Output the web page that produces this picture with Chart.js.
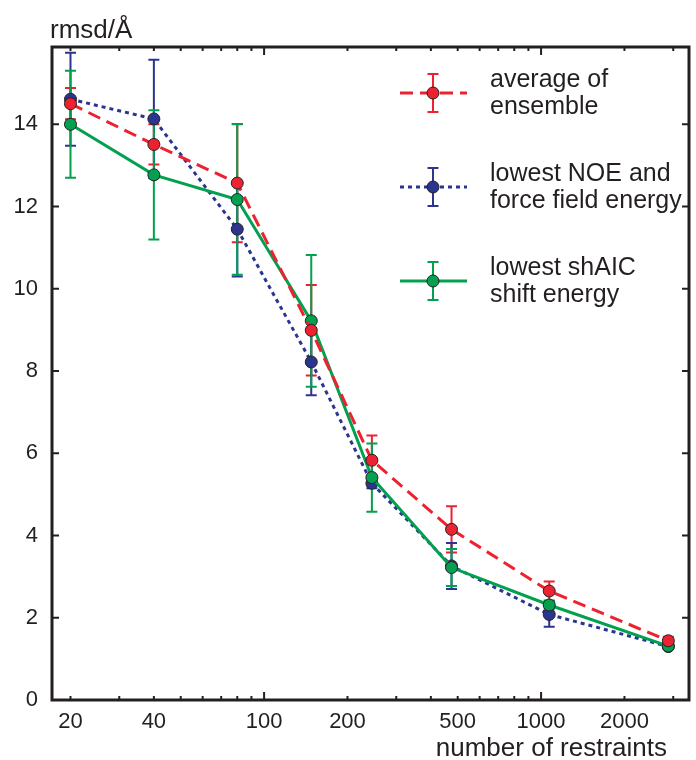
<!DOCTYPE html>
<html lang="en">
<head>
<meta charset="UTF-8">
<title>rmsd vs number of restraints</title>
<script src="https://cdn.jsdelivr.net/npm/chart.js"></script>
<style>
  body { margin: 0; background: #fff; }
  #wrap { width: 696px; height: 760px; }
</style>
</head>
<body>
<div id="wrap"><canvas id="myChart"></canvas></div>
<script>
// values
const restraints = [20, 40, 80, 148, 245, 475, 1070, 2880];

const avgEnsemble    = [14.50, 13.51, 12.57, 8.99, 5.83, 4.15, 2.65, 1.44];
const avgEnsembleErr = [0.38, 0.49, 1.44, 1.10, 0.60, 0.56, 0.23, 0.10];

const lowestNoe    = [14.61, 14.13, 11.45, 8.22, 5.27, 3.26, 2.08, 1.30];
const lowestNoeErr = [1.13, 1.44, 1.15, 0.81, 0.12, 0.56, 0.30, 0.06];

const lowestShaic    = [14.00, 12.77, 12.17, 9.22, 5.41, 3.22, 2.31, 1.31];
const lowestShaicErr = [1.30, 1.57, 1.83, 1.60, 0.83, 0.45, 0.10, 0.06];

const legendLines = [['average of', 'ensemble'], ['lowest NOE and', 'force field energy'], ['lowest shAIC', 'shift energy']];

const yTicks = [0, 2, 4, 6, 8, 10, 12, 14];
const xTicks = [20, 30, 40, 50, 60, 70, 80, 90, 100, 200, 300, 400, 500, 600, 700, 800, 900, 1000, 2000, 3000];
const xTickLabels = [20, 40, 100, 200, 500, 1000, 2000];

const ink = '#231f20';
const font = '"Liberation Sans", Arial, sans-serif';

function pts(ys) {
    return restraints.map((x, i) => ({ x: x, y: ys[i] }));
}

const errorBars = {
    id: 'errorBars',
    beforeDatasetsDraw(chart) {
        const ctx = chart.ctx;
        const xs = chart.scales.x, ys = chart.scales.y;
        chart.data.datasets.forEach((ds) => {
            ctx.save();
            ctx.strokeStyle = ds.borderColor;
            ctx.lineWidth = 2;
            ds.data.forEach((p, j) => {
                const e = ds.errors[j];
                const x = xs.getPixelForValue(p.x);
                const y1 = ys.getPixelForValue(p.y - e);
                const y2 = ys.getPixelForValue(p.y + e);
                ctx.beginPath();
                ctx.moveTo(x, y1); ctx.lineTo(x, y2);
                ctx.moveTo(x - 5.5, y1); ctx.lineTo(x + 5.5, y1);
                ctx.moveTo(x - 5.5, y2); ctx.lineTo(x + 5.5, y2);
                ctx.stroke();
            });
            ctx.restore();
        });
    }
};

const frameAndLegend = {
    id: 'frameAndLegend',
    afterDraw(chart) {
        const ctx = chart.ctx;
        const xs = chart.scales.x, ys = chart.scales.y;
        const { left, right, top, bottom } = chart.chartArea;
        ctx.save();
        ctx.strokeStyle = ink;
        ctx.lineWidth = 3;
        ctx.strokeRect(left, top, right - left, bottom - top);

        // inward ticks
        ctx.lineWidth = 2;
        ctx.beginPath();
        yTicks.forEach((v) => {
            const y = ys.getPixelForValue(v);
            ctx.moveTo(left, y); ctx.lineTo(left + 7, y);
            ctx.moveTo(right, y); ctx.lineTo(right - 7, y);
        });
        xTicks.forEach((v) => {
            const x = xs.getPixelForValue(v);
            const len = (v === 100 || v === 1000) ? 8 : 4;
            ctx.moveTo(x, bottom); ctx.lineTo(x, bottom - len);
            ctx.moveTo(x, top); ctx.lineTo(x, top + len);
        });
        ctx.stroke();

        // axis titles
        ctx.fillStyle = ink;
        ctx.font = '26px ' + font;
        ctx.textBaseline = 'alphabetic';
        ctx.textAlign = 'left';
        ctx.fillText('rmsd/Å', 50, 38);
        ctx.textAlign = 'right';
        ctx.fillText('number of restraints', 667, 756);

        // legend
        ctx.font = '25px ' + font;
        const rows = [93, 187, 281];
        chart.data.datasets.forEach((ds, i) => {
            const y = rows[i];
            ctx.save();
            ctx.strokeStyle = ds.borderColor;
            ctx.lineWidth = ds.borderWidth;
            ctx.setLineDash(ds.borderDash || []);
            ctx.beginPath();
            ctx.moveTo(400, y); ctx.lineTo(467, y);
            ctx.stroke();
            ctx.setLineDash([]);
            ctx.lineWidth = 2;
            ctx.beginPath();
            ctx.moveTo(433, y - 19); ctx.lineTo(433, y + 19);
            ctx.moveTo(427.5, y - 19); ctx.lineTo(438.5, y - 19);
            ctx.moveTo(427.5, y + 19); ctx.lineTo(438.5, y + 19);
            ctx.stroke();
            ctx.beginPath();
            ctx.arc(433, y, 6, 0, Math.PI * 2);
            ctx.fillStyle = ds.backgroundColor;
            ctx.fill();
            ctx.strokeStyle = '#222';
            ctx.lineWidth = 1;
            ctx.stroke();
            ctx.restore();

            ctx.fillStyle = ink;
            ctx.textAlign = 'left';
            ctx.fillText(legendLines[i][0], 490, y - 6);
            ctx.fillText(legendLines[i][1], 490, y + 21);
        });
        ctx.restore();
    }
};

function makeSet(label, values, errs, color, dash, order) {
    return {
        label: label,
        data: pts(values),
        errors: errs,
        borderColor: color,
        backgroundColor: color,
        borderWidth: 3,
        borderDash: dash,
        pointRadius: 6,
        pointBackgroundColor: color,
        pointBorderColor: '#222',
        pointBorderWidth: 1,
        tension: 0,
        order: order
    };
}

const ctx = document.getElementById('myChart');

new Chart(ctx, {
    type: 'line',
    data: {
        datasets: [
            makeSet('average of ensemble', avgEnsemble, avgEnsembleErr, '#ec2230', [13, 7], 0),
            makeSet('lowest NOE and force field energy', lowestNoe, lowestNoeErr, '#2b3590', [4, 4], 2),
            makeSet('lowest shAIC shift energy', lowestShaic, lowestShaicErr, '#03a04f', [], 1)
        ]
    },
    options: {
        responsive: true,
        maintainAspectRatio: false,
        animation: false,
        layout: { padding: { left: 0, top: 47, right: 3, bottom: 0 } },
        plugins: { legend: { display: false }, tooltip: { enabled: false } },
        scales: {
            x: {
                type: 'logarithmic',
                min: 17.15,
                max: 3420,
                grid: { display: false, drawTicks: false },
                border: { display: false },
                afterBuildTicks: (scale) => { scale.ticks = xTicks.map((v) => ({ value: v })); },
                afterFit: (scale) => { scale.height = 60; },
                ticks: {
                    autoSkip: false,
                    maxRotation: 0,
                    padding: 9,
                    color: ink,
                    font: { family: font, size: 22 },
                    callback: (v) => xTickLabels.includes(v) ? String(v) : ''
                }
            },
            y: {
                min: 0,
                max: 15.88,
                grid: { display: false, drawTicks: false },
                border: { display: false },
                afterBuildTicks: (scale) => { scale.ticks = yTicks.map((v) => ({ value: v })); },
                afterFit: (scale) => { scale.width = 52; },
                ticks: {
                    padding: 14,
                    color: ink,
                    font: { family: font, size: 22 }
                }
            }
        }
    },
    plugins: [errorBars, frameAndLegend]
});
</script>
</body>
</html>
